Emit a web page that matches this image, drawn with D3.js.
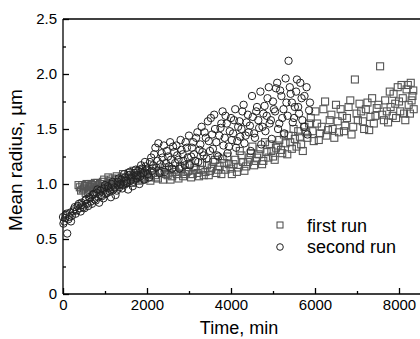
<!DOCTYPE html>
<html>
<head>
<meta charset="utf-8">
<script src="https://cdn.jsdelivr.net/npm/d3@7"></script>
<style>
  body { margin: 0; background: #fff; }
  svg { display: block; font-family: "Liberation Sans", Arial, sans-serif; }
</style>
</head>
<body>
<div id="chart"></div>
<script>
// first run (squares)
var firstTime = [400, 430, 460, 500, 540, 580, 620, 660, 700, 740, 780, 820, 860, 900, 950, 1000, 1050, 1100, 1150, 1200,
  1250, 1300, 1350, 1400, 1450, 1500, 1550, 1600, 1650, 1700, 1750, 1800, 1850, 1900, 1950, 2000, 2080, 2150, 2220, 2300,
  2380, 2450, 2530, 2600, 2680, 2750, 2830, 2900, 2980, 3050, 3130, 3200, 3280, 3350, 3430, 3500, 3580, 3650, 3730, 3800,
  3870, 3950, 4020, 4100, 4170, 4250, 4320, 4400, 4470, 4550, 4620, 4700, 4770, 4850, 4920, 5000, 5070, 5150, 5220, 5300,
  5370, 5450, 5520, 5600, 5670, 5750, 5820, 5900, 5970, 6050, 6120, 6200, 6270, 6350, 6420, 6500, 6570, 6650, 6720, 6800,
  6870, 6950, 7020, 7100, 7170, 7250, 7320, 7400, 7470, 7550, 7600, 7670, 7740, 7800, 7870, 7930, 8000, 8060, 8120, 8180,
  8230, 8280, 8320, 8350,
  370, 470, 520, 560, 600, 640, 690, 720, 760, 800, 880, 930, 980, 1030, 1080, 1130, 1180, 1230, 1280, 1330,
  1380, 1430, 1480, 1530, 1580, 1630, 1680, 1730, 1780, 1830, 1880, 1930, 1980, 2040, 2120, 2190, 2260, 2340, 2420, 2490,
  2560, 2640, 2710, 2790, 2860, 2940, 3010, 3090, 3160, 3240, 3310, 3390, 3470, 3540, 3620, 3690, 3770, 3840, 3910, 3990,
  4060, 4140, 4210, 4290, 4360, 4440, 4510, 4590, 4660, 4740, 4810, 4890, 4960, 5040, 5110, 5190, 5260, 5340, 5410, 5490,
  5560, 5640, 5710, 5790, 5860, 5940, 6010, 6090, 6160, 6240, 6310, 6390, 6460, 6540, 6610, 6690, 6760, 6840, 6910, 6990,
  7060, 7140, 7210, 7290, 7360, 7440, 7510, 7640, 7710, 7780, 7850, 7910, 7970, 8030, 8090, 8150, 8210, 8260, 8300, 8340];
var firstRadius = [0.97, 0.94, 0.99, 0.96, 0.92, 0.98, 0.95, 1.00, 0.97, 0.93, 0.99, 1.01, 0.96, 0.98, 1.02, 0.95, 1.00, 1.03, 0.97, 1.01,
  1.04, 0.99, 1.02, 1.06, 1.00, 1.03, 1.08, 1.04, 1.01, 1.07, 1.10, 1.03, 1.06, 1.11, 1.05, 1.08, 1.03, 1.10, 1.06, 1.12,
  1.04, 1.09, 1.13, 1.07, 1.11, 1.05, 1.14, 1.09, 1.12, 1.06, 1.15, 1.10, 1.13, 1.08, 1.17, 1.12, 1.20, 1.10, 1.16, 1.23,
  1.13, 1.18, 1.09, 1.22, 1.15, 1.26, 1.12, 1.20, 1.28, 1.17, 1.24, 1.32, 1.21, 1.29, 1.36, 1.25, 1.33, 1.40, 1.28, 1.37,
  1.44, 1.32, 1.41, 1.48, 1.36, 1.52, 1.42, 1.60, 1.39, 1.55, 1.46, 1.68, 1.44, 1.58, 1.50, 1.72, 1.47, 1.62, 1.53, 1.70,
  1.45, 1.95, 1.58, 1.66, 1.50, 1.74, 1.61, 1.55, 1.69, 2.07, 1.63, 1.76, 1.56, 1.70, 1.82, 1.60, 1.75, 1.90, 1.64, 1.86,
  1.72, 1.92, 1.80, 1.68,
  0.99, 0.95, 0.98, 1.00, 0.93, 0.97, 0.99, 0.95, 1.01, 0.96, 1.00, 0.97, 1.04, 0.98, 1.06, 1.01, 1.05, 0.99, 1.07, 1.04,
  1.01, 1.09, 1.05, 1.02, 1.10, 1.06, 1.12, 1.05, 1.08, 1.13, 1.04, 1.09, 1.12, 1.06, 1.14, 1.08, 1.05, 1.11, 1.15, 1.08,
  1.04, 1.13, 1.09, 1.16, 1.07, 1.11, 1.18, 1.09, 1.13, 1.07, 1.19, 1.11, 1.08, 1.15, 1.22, 1.13, 1.09, 1.19, 1.25, 1.14,
  1.18, 1.11, 1.30, 1.20, 1.16, 1.24, 1.34, 1.21, 1.27, 1.18, 1.38, 1.24, 1.30, 1.22, 1.35, 1.31, 1.45, 1.27, 1.38, 1.50,
  1.34, 1.43, 1.30, 1.47, 1.55, 1.48, 1.66, 1.40, 1.52, 1.75, 1.49, 1.63, 1.42, 1.57, 1.68, 1.48, 1.60, 1.76, 1.52, 1.64,
  1.73, 1.57, 1.68, 1.49, 1.78, 1.62, 1.72, 1.58, 1.66, 1.84, 1.62, 1.73, 1.88, 1.66, 1.78, 1.58, 1.90, 1.64, 1.76, 1.85];

// second run (circles)
var secondTime = [0, 30, 60, 100, 130, 170, 210, 260, 300, 350, 400, 440, 480, 530, 570, 620, 660, 710, 750, 800,
  840, 890, 930, 980, 1020, 1070, 1110, 1160, 1200, 1250, 1300, 1340, 1390, 1430, 1480, 1520, 1570, 1610, 1660, 1700,
  1750, 1790, 1840, 1880, 1930, 1970, 2020, 2070, 2120, 2170, 2220, 2270, 2320, 2370, 2420, 2470, 2520, 2570, 2620, 2670,
  2720, 2770, 2820, 2870, 2920, 2970, 3020, 3070, 3120, 3170, 3220, 3270, 3320, 3370, 3420, 3470, 3520, 3570, 3620, 3670,
  3720, 3770, 3820, 3870, 3920, 3970, 4020, 4070, 4120, 4170, 4220, 4270, 4320, 4370, 4420, 4470, 4520, 4570, 4620, 4670,
  4720, 4770, 4820, 4870, 4920, 4970, 5020, 5070, 5120, 5170, 5220, 5270, 5320, 5370, 5420, 5470, 5520, 5570, 5620, 5680,
  5740, 5800, 5860,
  10, 50, 80, 150, 190, 240, 280, 330, 380, 420, 460, 510, 550, 600, 640, 690, 730, 780, 820, 860,
  910, 960, 1000, 1050, 1090, 1140, 1180, 1230, 1280, 1320, 1370, 1410, 1460, 1500, 1550, 1590, 1640, 1680, 1730, 1770,
  1820, 1860, 1910, 1950, 2000, 2050, 2100, 2150, 2200, 2250, 2300, 2350, 2400, 2450, 2500, 2550, 2600, 2650, 2700, 2750,
  2800, 2850, 2900, 2950, 3000, 3050, 3100, 3150, 3200, 3250, 3300, 3350, 3400, 3450, 3500, 3550, 3600, 3650, 3700, 3750,
  3800, 3850, 3900, 3950, 4000, 4050, 4100, 4150, 4200, 4250, 4300, 4350, 4400, 4450, 4500, 4550, 4600, 4650, 4700, 4750,
  4800, 4850, 4900, 4950, 5000, 5050, 5100, 5150, 5200, 5250, 5300, 5350, 5400, 5450, 5500, 5550, 5600, 5650, 5700, 5750,
  5820, 5880];
var secondRadius = [0.70, 0.66, 0.72, 0.55, 0.68, 0.74, 0.71, 0.77, 0.73, 0.80, 0.78, 0.83, 0.79, 0.85, 0.82, 0.88, 0.84, 0.90, 0.86, 0.92,
  0.88, 0.94, 0.89, 0.96, 0.91, 0.98, 0.93, 1.00, 0.95, 0.90, 1.02, 0.97, 1.04, 0.99, 1.06, 1.01, 1.08, 1.03, 0.98, 1.10,
  1.05, 1.12, 1.07, 1.14, 1.04, 1.16, 1.09, 1.20, 1.12, 1.27, 1.15, 1.37, 1.18, 1.24, 1.11, 1.30, 1.16, 1.22, 1.34, 1.19,
  1.26, 1.14, 1.31, 1.21, 1.38, 1.24, 1.17, 1.33, 1.27, 1.42, 1.20, 1.36, 1.29, 1.47, 1.23, 1.39, 1.60, 1.32, 1.50, 1.26,
  1.44, 1.55, 1.35, 1.62, 1.28, 1.48, 1.40, 1.58, 1.33, 1.52, 1.43, 1.66, 1.37, 1.56, 1.47, 1.30, 1.61, 1.42, 1.70, 1.51,
  1.36, 1.64, 1.48, 1.78, 1.55, 1.41, 1.68, 1.87, 1.50, 1.85, 1.60, 1.46, 1.74, 2.12, 1.82, 1.56, 1.70, 1.95, 1.64, 1.78,
  1.52, 1.88, 1.67,
  0.64, 0.69, 0.73, 0.70, 0.66, 0.75, 0.79, 0.76, 0.82, 0.75, 0.81, 0.78, 0.86, 0.80, 0.87, 0.82, 0.91, 0.85, 0.95, 0.83,
  0.90, 0.87, 0.99, 0.92, 0.96, 0.88, 1.02, 0.97, 0.94, 1.05, 1.00, 0.96, 1.09, 1.03, 0.95, 1.11, 1.06, 1.02, 1.13, 1.08,
  1.00, 1.17, 1.10, 1.20, 1.13, 1.06, 1.24, 1.17, 1.33, 1.21, 1.10, 1.28, 1.35, 1.19, 1.25, 1.38, 1.14, 1.29, 1.35, 1.22,
  1.40, 1.27, 1.17, 1.33, 1.44, 1.25, 1.38, 1.21, 1.47, 1.31, 1.52, 1.26, 1.42, 1.57, 1.30, 1.45, 1.63, 1.38, 1.25, 1.51,
  1.66, 1.42, 1.55, 1.34, 1.60, 1.46, 1.68, 1.39, 1.57, 1.50, 1.72, 1.44, 1.63, 1.53, 1.80, 1.46, 1.66, 1.58, 1.84, 1.52,
  1.71, 1.62, 1.88, 1.58, 1.75, 1.66, 1.92, 1.55, 1.80, 1.68, 1.96, 1.62, 1.88, 1.74, 1.60, 1.84, 1.70, 1.92, 1.58, 1.80,
  1.45, 1.74];

var xTicks = [0, 2000, 4000, 6000, 8000];
var yTicks = [0, 0.5, 1.0, 1.5, 2.0, 2.5];
var legendLabels = ['first run', 'second run'];

var width = 420, height = 339;
var svg = d3.select('#chart').append('svg')
  .attr('width', width)
  .attr('height', height);

var x = d3.scaleLinear().domain([0, 8500]).range([63, 420]);
var y = d3.scaleLinear().domain([0, 2.5]).range([294, 19]);

// frame: top line
svg.append('line')
  .attr('x1', x(0)).attr('x2', width)
  .attr('y1', y(2.5)).attr('y2', y(2.5))
  .style('stroke', '#000').style('stroke-width', 1.3);

// x axis, ticks pointing inward
var xAxis = svg.append('g')
  .attr('transform', 'translate(0,' + y(0) + ')')
  .call(d3.axisBottom(x).tickValues(d3.range(0, 8001, 1000)).tickSize(-6).tickFormat(''));
xAxis.selectAll('.tick line').attr('y2', function(d) { return d % 2000 === 0 ? -6 : -3; });
xAxis.select('.domain').attr('d', 'M' + x(0) + ',0H' + width);

svg.append('g')
  .attr('transform', 'translate(0,' + y(0) + ')')
  .call(d3.axisBottom(x).tickValues(xTicks).tickSize(0).tickPadding(5).tickFormat(d3.format('d')))
  .call(function(g) { g.select('.domain').remove(); })
  .selectAll('text').style('font-size', '15px').style('fill', '#000');

// y axis
var yAxis = svg.append('g')
  .attr('transform', 'translate(' + x(0) + ',0)')
  .call(d3.axisLeft(y).tickValues(d3.range(0, 2.51, 0.25)).tickSize(-6).tickFormat(''));
yAxis.selectAll('.tick line').attr('x2', function(d) { return Math.abs(d * 2 - Math.round(d * 2)) < 1e-6 ? 6 : 3; });
yAxis.select('.domain').attr('d', 'M0,' + y(0) + 'V' + y(2.5));

svg.append('g')
  .attr('transform', 'translate(' + x(0) + ',0)')
  .call(d3.axisLeft(y).tickValues(yTicks).tickSize(0).tickPadding(6)
    .tickFormat(function(d) { return d === 0 ? '0' : d3.format('.1f')(d); }))
  .call(function(g) { g.select('.domain').remove(); })
  .selectAll('text').style('font-size', '15px').style('fill', '#000');

svg.selectAll('.domain, .tick line').style('stroke', '#000').style('stroke-width', 1.3);

// axis titles
svg.append('text')
  .attr('x', 239).attr('y', 334)
  .attr('text-anchor', 'middle')
  .style('font-size', '18px')
  .text('Time, min');

svg.append('text')
  .attr('transform', 'translate(22,160) rotate(-90)')
  .attr('text-anchor', 'middle')
  .style('font-size', '19px')
  .text('Mean radius, \u00b5m');

// data
var sq = 7;
svg.append('g').selectAll('rect')
  .data(d3.range(firstTime.length))
  .enter().append('rect')
  .attr('x', function(i) { return x(firstTime[i]) - sq / 2; })
  .attr('y', function(i) { return y(firstRadius[i]) - sq / 2; })
  .attr('width', sq).attr('height', sq)
  .style('fill', 'none')
  .style('stroke', '#555')
  .style('stroke-width', 1.1);

svg.append('g').selectAll('circle')
  .data(d3.range(secondTime.length))
  .enter().append('circle')
  .attr('cx', function(i) { return x(secondTime[i]); })
  .attr('cy', function(i) { return y(secondRadius[i]); })
  .attr('r', 3.7)
  .style('fill', 'none')
  .style('stroke', '#222')
  .style('stroke-width', 1);

// legend
var legend = svg.append('g');
legend.append('rect')
  .attr('x', 277).attr('y', 222).attr('width', 6).attr('height', 6)
  .style('fill', 'none').style('stroke', '#444');
legend.append('circle')
  .attr('cx', 280).attr('cy', 247).attr('r', 3.3)
  .style('fill', 'none').style('stroke', '#222');
legend.selectAll('text')
  .data(legendLabels)
  .enter().append('text')
  .attr('x', 307)
  .attr('y', function(d, i) { return 232 + i * 21; })
  .style('font-size', '18px')
  .text(function(d) { return d; });
</script>
</body>
</html>
